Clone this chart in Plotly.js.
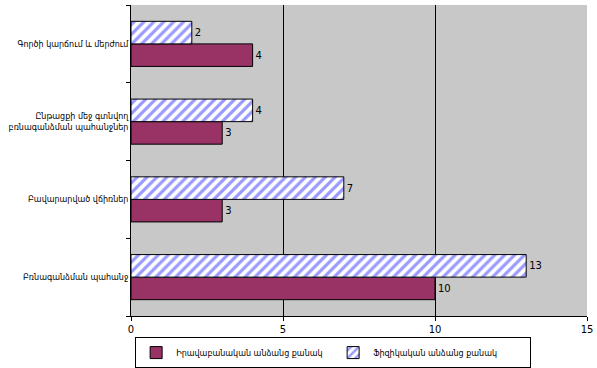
<!DOCTYPE html>
<html><head><meta charset="utf-8">
<script src="https://cdn.plot.ly/plotly-3.0.1.min.js"></script>
<style>html,body{margin:0;padding:0;background:#fff}</style>
</head><body>
<div id="chart" style="width:597px;height:368px"></div>
<script>
const categories = [
  "Բռնագանձման պահանջ",
  "Բավարարված վճիռներ",
  "Ընթացքի մեջ գտնվող<br>բռնագանձման պահանջներ",
  "Գործի կարճում և մերժում"
];
const legalEntities = [10, 3, 3, 4];
const naturalPersons = [13, 7, 4, 2];
const seriesNames = ["Իրավաբանական անձանց քանակ", "Ֆիզիկական անձանց քանակ"];
const xTicks = [0, 5, 10, 15];

const traces = [
  {
    type: "bar", orientation: "h", name: seriesNames[0],
    y: categories, x: legalEntities,
    text: legalEntities.map(String), textposition: "outside",
    textfont: {family: "DejaVu Sans, Verdana, sans-serif", size: 10, color: "#000"},
    marker: {color: "#993366", line: {color: "#000", width: 1}},
    cliponaxis: false
  },
  {
    type: "bar", orientation: "h", name: seriesNames[1],
    y: categories, x: naturalPersons,
    text: naturalPersons.map(String), textposition: "outside",
    textfont: {family: "DejaVu Sans, Verdana, sans-serif", size: 10, color: "#000"},
    marker: {color: "#ffffff", line: {color: "#000", width: 1},
      pattern: {shape: "/", fgcolor: "#9999ff", bgcolor: "#ffffff", size: 7, solidity: 0.45}},
    cliponaxis: false
  }
];

const layout = {
  width: 597, height: 368,
  margin: {l: 131, r: 10, t: 5, b: 52},
  paper_bgcolor: "#ffffff",
  plot_bgcolor: "#c8c8c8",
  barmode: "group",
  bargap: 0.42, bargroupgap: 0,
  showlegend: true,
  font: {family: "DejaVu Sans, sans-serif", size: 8, color: "#000"},
  xaxis: {
    range: [0, 15], tickvals: xTicks, ticktext: xTicks.map(String),
    showgrid: true, gridcolor: "#000", gridwidth: 1,
    zeroline: false, showline: true, linecolor: "#000", linewidth: 1,
    ticks: "outside", ticklen: 4, tickcolor: "#000",
    tickfont: {family: "DejaVu Sans, Verdana, sans-serif", size: 10},
    automargin: false
  },
  yaxis: {
    showline: true, linecolor: "#000", linewidth: 1,
    ticks: "outside", ticklen: 4, tickcolor: "#000", tickson: "boundaries",
    showgrid: false, zeroline: false,
    tickfont: {family: "DejaVu Sans, sans-serif", size: 8},
    automargin: false
  },
  legend: {
    orientation: "h", xref: "container", x: 0.558, xanchor: "center",
    yref: "container", y: 0.084, yanchor: "top",
    bordercolor: "#000", borderwidth: 1, bgcolor: "#fff",
    font: {family: "DejaVu Sans, sans-serif", size: 8},
    traceorder: "normal", entrywidth: 152, itemwidth: 30,
    tracegroupgap: 0
  }
};

Plotly.newPlot("chart", traces, layout, {displayModeBar: false, staticPlot: true});
</script>
</body></html>
